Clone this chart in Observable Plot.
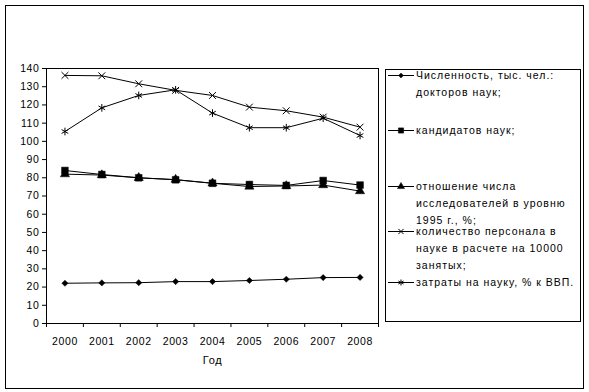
<!DOCTYPE html>
<html><head><meta charset="utf-8">
<script src="https://cdn.jsdelivr.net/npm/d3@7"></script>
<script src="https://cdn.jsdelivr.net/npm/@observablehq/plot@0.6"></script>
<style>body{margin:0;background:#fff} svg{display:block}</style>
</head><body><div id="chart"></div>
<script>
const years = [2000, 2001, 2002, 2003, 2004, 2005, 2006, 2007, 2008];
const doctors = [22.1, 22.3, 22.4, 23.0, 23.0, 23.6, 24.3, 25.2, 25.3];
const candidates = [84.0, 81.8, 80.0, 78.9, 77.0, 76.3, 75.8, 78.5, 76.0];
const researchersRatio = [82.0, 81.5, 80.0, 79.0, 77.0, 75.2, 75.5, 76.0, 72.7];
const personnel = [136.2, 136.0, 131.6, 128.0, 125.2, 118.8, 116.8, 113.3, 107.8];
const expenditure = [105.4, 118.4, 125.2, 128.3, 115.5, 107.5, 107.5, 112.7, 103.2];
const yTicks = [0, 10, 20, 30, 40, 50, 60, 70, 80, 90, 100, 110, 120, 130, 140];
const xTitle = "Год";
const legendTexts = [
  ["Численность, тыс. чел.:", "докторов наук;"],
  ["кандидатов наук;"],
  ["отношение числа", "исследователей в уровню", "1995 г., %;"],
  ["количество персонала в", "науке в расчете на 10000", "занятых;"],
  ["затраты на науку, % к ВВП."]
];

const series = [
  {key: "doctors", values: doctors, symbol: "diamond2", filled: true, r: 2.8},
  {key: "candidates", values: candidates, symbol: "square", filled: true, r: 3.8},
  {key: "ratio", values: researchersRatio, symbol: "triangle", filled: true, r: 3.4},
  {key: "personnel", values: personnel, symbol: "times", filled: false, r: 3.2},
  {key: "expenditure", values: expenditure, symbol: "asterisk", filled: false, r: 3.6}
];
const rows = series.flatMap(s => years.map((y, i) => ({series: s.key, year: y, value: s.values[i]})));
const boundaries = years.map(y => y - 0.5).concat([years[years.length - 1] + 0.5]);

const font = "'Liberation Sans', Arial, sans-serif";
const chart = Plot.plot({
  width: 589, height: 392,
  marginLeft: 46, marginRight: 211, marginTop: 68, marginBottom: 69,
  style: {fontFamily: font, fontSize: "10.5px", background: "#fff", color: "#000", letterSpacing: "0.6px"},
  x: {type: "linear", domain: [years[0] - 0.5, years[years.length - 1] + 0.5]},
  y: {domain: [0, 140]},
  marks: [
    Plot.frame({stroke: "#000"}),
    Plot.axisY({ticks: yTicks, tickSize: 4, tickPadding: 3, label: null, tickFormat: d => String(d)}),
    Plot.axisX({ticks: boundaries, tickSize: 4, tickFormat: () => "", label: null}),
    Plot.axisX({ticks: years, tickSize: 0, tickPadding: 14, tickFormat: d => String(d), label: null}),
    Plot.text([xTitle], {text: d => d, frameAnchor: "bottom", dy: 40, fontSize: 11}),
    Plot.lineY(rows, {x: "year", y: "value", z: "series", stroke: "#000", strokeWidth: 1}),
    ...series.map(s => Plot.dot(rows.filter(r => r.series === s.key), {
      x: "year", y: "value", symbol: () => s.symbol, r: s.r,
      fill: s.filled ? "#000" : "none", stroke: "#000", strokeWidth: s.filled ? 0.5 : 1
    }))
  ]
});
document.getElementById("chart").appendChild(chart);

const svg = d3.select(chart);
svg.append("rect").attr("x", 5.5).attr("y", 5.5).attr("width", 578).attr("height", 383)
  .attr("fill", "none").attr("stroke", "#000");
const lg = svg.append("g").attr("font-family", font).attr("font-size", 10.5)
  .attr("letter-spacing", "1px").attr("text-anchor", "start");
lg.append("rect").attr("x", 385.5).attr("y", 69.5).attr("width", 195).attr("height", 252)
  .attr("fill", "#fff").attr("stroke", "#000");
const entryY = [75, 130, 186, 231, 282];
const symMap = {diamond2: d3.symbolDiamond2, square: d3.symbolSquare, triangle: d3.symbolTriangle, times: d3.symbolTimes, asterisk: d3.symbolAsterisk};
series.forEach((s, i) => {
  const y = entryY[i];
  lg.append("line").attr("x1", 388).attr("x2", 414).attr("y1", y + 0.5).attr("y2", y + 0.5).attr("stroke", "#000");
  lg.append("path").attr("transform", `translate(401,${y + 0.5})`)
    .attr("d", d3.symbol(symMap[s.symbol], Math.PI * s.r * s.r * 0.6)())
    .attr("fill", s.filled ? "#000" : "none").attr("stroke", "#000").attr("stroke-width", s.filled ? 0.5 : 1);
  legendTexts[i].forEach((t, j) => {
    lg.append("text").attr("x", 416).attr("y", y + j * 17).attr("dy", "0.35em")
      .attr("text-anchor", "start").text(t);
  });
});
</script></body></html>
